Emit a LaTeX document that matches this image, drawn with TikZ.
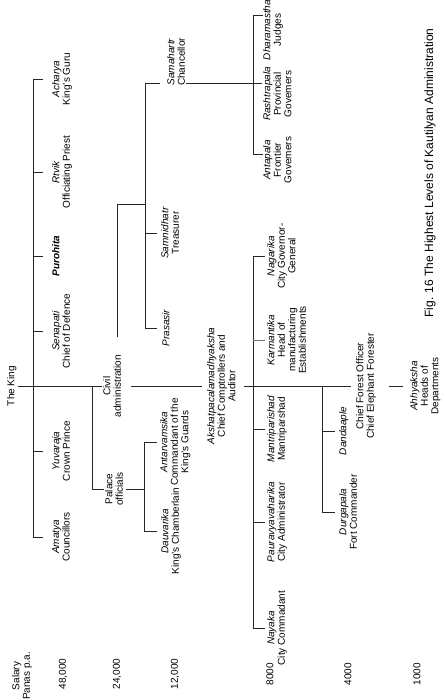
\documentclass[tikz,border=0pt]{standalone}
\usepackage{fontspec}
\setmainfont{Liberation Sans}
\begin{document}
\begin{tikzpicture}[x=1pt,y=-1pt,
  lbl/.style={rotate=90, align=center, inner sep=1pt, anchor=north, font=\fontsize{10}{10.5}\selectfont},
  sal/.style={rotate=90, align=center, inner sep=1pt, font=\fontsize{10}{10.5}\selectfont},
  ln/.style={line width=0.7pt, draw=black!85}]
\useasboundingbox (0,0) rectangle (444,700);
% bus coordinates
\coordinate (b1) at (33,0);
\coordinate (pv) at (92,0);
\coordinate (pb) at (144,0);
\coordinate (tb) at (145,0);
\coordinate (b4) at (253,0);
\coordinate (b2) at (253,0);
\coordinate (b3) at (322,0);
% nodes
\node[lbl] (king) at (6,386) {The King};
\node[lbl] (acharya) at (51,79) {\textit{Acharya}\\King's Guru};
\node[lbl] (rtvik) at (51,172) {\textit{Rtvik}\\Officiating Priest};
\node[lbl] (purohita) at (51,256) {\textbf{\textit{Purohita}}};
\node[lbl] (senapati) at (51,331) {\textit{Senapati}\\Chief of Defence};
\node[lbl] (yuvaraja) at (51,451) {\textit{Yuvaraja}\\Crown Prince};
\node[lbl] (amatya) at (51,537) {\textit{Amatya}\\Councillors};
\node[lbl] (civil) at (102,386) {Civil\\administration};
\node[lbl] (palace) at (104,489) {Palace\\officials};
\node[lbl] (samahartr) at (166,62) {\textit{Samahartr}\\Chancellor};
\node[lbl] (samnidhatr) at (160,233) {\textit{Samnidhatr}\\Treasurer};
\node[lbl] (prasasir) at (161,328) {\textit{Prasasir}};
\node[lbl] (antarvamsika) at (159,442) {\textit{Antarvamsika}\\Commandant of the\\King's Guards};
\node[lbl] (dauvarika) at (160,531) {\textit{Dauvarika}\\King's Chamberlain};
\node[lbl] (akshat) at (206,386) {\textit{Akshatpacalamadhyaksha}\\Chief Comptrollers and\\Auditor};
\node[lbl] (dharamastha) at (262,30) {\textit{Dharamastha}\\Judges};
\node[lbl] (rashtrapala) at (262,94) {\textit{Rashtrapala}\\Provincial\\Govemers};
\node[lbl] (antapala) at (262,160) {\textit{Antapala}\\Frontier\\Govemers};
\node[lbl] (nagarika) at (266,256) {\textit{Nagarika}\\City Governor-\\General};
\node[lbl] (karmantika) at (266,340) {\textit{Karmantika}\\Head of\\manufacturing\\Establishments};
\node[lbl] (mantri) at (266,429) {\textit{Mantriparishad}\\Mantriparshad};
\node[lbl] (paura) at (266,522) {\textit{Pauravyavaharika}\\City Administrator};
\node[lbl] (nayaka) at (266,628) {\textit{Nayaka}\\City Commadant};
\node[lbl] (dandaaple) at (338,431) {\textit{Dandaaple}};
\node[lbl] (durgapala) at (338,512) {\textit{Durgapala}\\Fort Commander};
\node[lbl] (forest) at (355,386) {Chief Forest Officer\\Chief Elephant Forester};
\node[lbl] (ahhyaksha) at (409,386) {\textit{Ahhyaksha}\\Heads of\\Departments};
\node[rotate=90, inner sep=0pt, font=\fontsize{12}{14}\selectfont] (caption) at (430,173) {Fig. 16 The Highest Levels of Kautilyan Administration};
% salary scale
\node[sal] (salary) at (22,676) {Salary\\Panas p.a.};
\node[sal] (s48) at (63,674) {48,000};
\node[sal] (s24) at (117,674) {24,000};
\node[sal] (s12) at (175,674) {12,000};
\node[sal] (s8) at (270,674) {8000};
\node[sal] (s4) at (348,674) {4000};
\node[sal] (s1) at (417,674) {1000};
% helper coordinates
\coordinate (cu) at (117,337);
\coordinate (cb) at (117,204);
\coordinate (smy) at (145,83);
\coordinate (dht) at (253,15);
\coordinate (apt) at (253,154);
% main axis
\draw[ln] (king.south) -- (civil.north);
\draw[ln] ([xshift=9pt]civil.south) -- ([xshift=-4pt]akshat.north);
\draw[ln] ([xshift=7pt]akshat.south) -- ([xshift=-4pt]forest.north);
\draw[ln] ([xshift=12pt]forest.south) -- ([xshift=-6pt]ahhyaksha.north);
% king's bus
\draw[ln] (acharya.north -| b1) -- (amatya.north -| b1);
\foreach \n in {acharya,rtvik,purohita,senapati,yuvaraja,amatya}
  \draw[ln] (\n.north -| b1) -- ++(10,0);
% palace officials
\draw[ln] (king.south -| pv) -- (palace.north -| pv) -- (palace.north);
\draw[ln] ([xshift=2pt]palace.south) -- (palace.south -| pb);
\draw[ln] (antarvamsika.north -| pb) -- (dauvarika.north -| pb);
\foreach \n in {antarvamsika,dauvarika}
  \draw[ln] (\n.north -| pb) -- ++(13,0);
% civil administration to treasury
\draw[ln] (cu) -- (cb) -- (cb -| tb);
\draw[ln] (smy) -- (prasasir.north -| tb);
\draw[ln] (smy) -- ++(15,0);
\foreach \n in {samnidhatr,prasasir}
  \draw[ln] (\n.north -| tb) -- ++(12,0);
% samahartr's departments
\draw[ln] (smy -| samahartr.south) -- (smy -| rashtrapala.north);
\draw[ln] (dht) -- (apt);
\draw[ln] (dht) -- ++(10,0);
\draw[ln] (apt) -- ++(10,0);
% akshatpacalamadhyaksha's officers
\draw[ln] (nagarika.north -| b2) -- (nayaka.north -| b2);
\foreach \n in {nagarika,mantri,paura,nayaka}
  \draw[ln] (\n.north -| b2) -- ++(12,0);
\draw[ln, draw=black!55] (karmantika.north -| b2) -- ++(12,0);
% forest branch
\draw[ln] (forest.north -| b3) -- (durgapala.north -| b3);
\foreach \n in {dandaaple,durgapala}
  \draw[ln] (\n.north -| b3) -- ++(13,0);
\end{tikzpicture}
\end{document}
